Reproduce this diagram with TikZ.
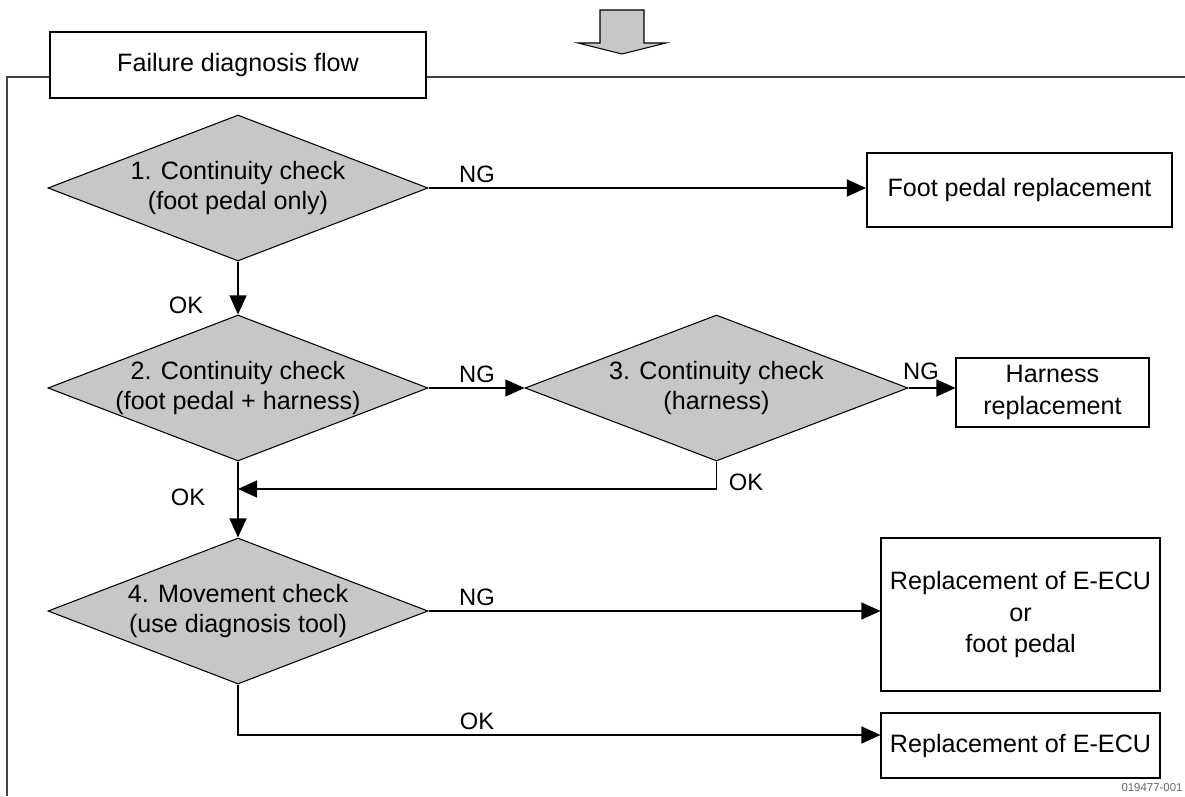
\documentclass[tikz,border=0pt]{standalone}
\usepackage{fontspec}
\setmainfont{Liberation Sans}
\usetikzlibrary{shapes.geometric, arrows.meta}
\newcommand{\boxfont}{\fontsize{14.3}{18}\selectfont}
\newcommand{\checkfont}{\fontsize{14.3}{17}\selectfont}
\newcommand{\tagfont}{\fontsize{13.5}{16}\selectfont}

\begin{document}
\begin{tikzpicture}[line width = 0.6pt,
  decision/.style = {diamond, draw, fill = black!22, minimum width = 7.6cm, minimum height = 2.92cm, inner sep = 0pt},
  result/.style = {rectangle, draw, fill = white, align = center, inner sep = 0pt, font = \boxfont},
  info/.style = {align = center, font = \checkfont},
  tag/.style = {font = \tagfont, inner sep = 0pt},
  flow/.style = {-{Triangle[length = 0.38cm, width = 0.34cm]}}]
\useasboundingbox (0,0) rectangle (23.7,15.92);
\draw[fill = black!22] (12.0,15.72) -- (12.0,15.06) -- (11.56,15.06) -- (12.44,14.84) -- (13.32,15.06) -- (12.88,15.06) -- (12.88,15.72) -- cycle;
\node[result, minimum width = 7.52cm, minimum height = 1.32cm] (title) at (4.76,14.62) {Failure diagnosis flow};
\coordinate (frametop) at (0.14,14.38);
\draw[black!75] (title.west |- frametop) -- (frametop) -- (0.14,0);
\draw[black!75] (title.east |- frametop) -- (23.7,14.38);
\node[decision] (check1) at (4.76,12.16) {};
\node[info] (check1 text) at (check1) {1. Continuity check\\(foot pedal only)};
\node[decision] (check2) at (4.76,8.16) {};
\node[info] (check2 text) at (check2) {2. Continuity check\\(foot pedal + harness)};
\node[decision, minimum width = 7.66cm] (check3) at (14.33,8.16) {};
\node[info] (check3 text) at (check3) {3. Continuity check\\(harness)};
\node[decision] (check4) at (4.76,3.70) {};
\node[info] (check4 text) at (check4) {4. Movement check\\(use diagnosis tool)};
\node[result, line width = 1.2pt, minimum width = 6.1cm, minimum height = 1.48cm] (pedal) at (20.39,12.12) {Foot pedal replacement};
\node[result, minimum width = 3.86cm, minimum height = 1.38cm] (harness) at (21.05,8.07) {Harness\\replacement};
\node[result, minimum width = 5.58cm, minimum height = 3.06cm] (ecuor) at (20.41,3.63) {Replacement of E-ECU\\or\\foot pedal};
\node[result, minimum width = 5.58cm, minimum height = 1.3cm] (ecu) at (20.41,1.01) {Replacement of E-ECU};
\coordinate (join) at (4.76,6.14);
\draw[flow] (check1.east) -- (check1.east -| pedal.west);
\draw[flow] (check1.south) -- (check2.north);
\draw[flow] (check2.east) -- (check3.west);
\draw[flow] (check3.east) -- (check3.east -| harness.west);
\draw[flow] (check3.south) |- (join);
\draw[flow] (check2.south) -- (check4.north);
\draw[flow] (check4.east) -- (check4.east -| ecuor.west);
\draw[flow] (check4.south) |- ([yshift = 0.21cm]ecu.west);
\node[tag] (ng1) at (9.54,12.44) {NG};
\node[tag] (ok1) at (3.72,9.82) {OK};
\node[tag] (ng2) at (9.54,8.44) {NG};
\node[tag] (ng3) at (18.42,8.50) {NG};
\node[tag] (ok3) at (14.92,6.28) {OK};
\node[tag] (ok2) at (3.76,5.98) {OK};
\node[tag] (ng4) at (9.54,3.98) {NG};
\node[tag] (ok4) at (9.54,1.50) {OK};
\node[font = \fontsize{6.5}{7}\selectfont, text = black!60, inner sep = 0pt] (code) at (23.04,0.16) {019477-001};
\end{tikzpicture}
\end{document}
